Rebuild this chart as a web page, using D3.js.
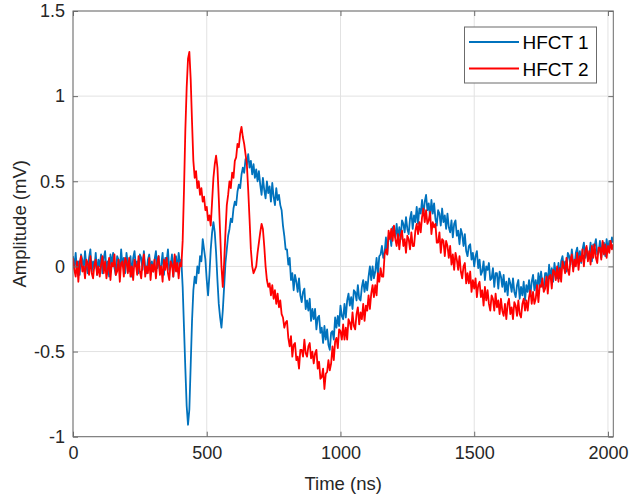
<!DOCTYPE html>
<html>
<head>
<meta charset="utf-8">
<script src="https://cdn.jsdelivr.net/npm/d3@7"></script>
<style>
  html, body { margin: 0; padding: 0; background: #fff; }
  svg { display: block; font-family: "Liberation Sans", Arial, sans-serif; }
</style>
</head>
<body>
<svg id="chart" width="630" height="496"></svg>
<script>
// Sampling grid (ns): one sample every 5 ns from 0 to 2020 ns
const sampleStartNs = 0;
const sampleStepNs = 5;

// HFCT 1 (mV), rows of 20 samples (100 ns per row)
const hfct1 = [
  0.06, -0.01, 0.08, -0.03, 0.03, -0.05, 0.07, 0.04, -0.02, 0.09, 0.00, -0.04, 0.05, 0.10, -0.03, 0.03, -0.01, 0.08, -0.05, 0.04,
  0.00, 0.07, -0.04, 0.05, 0.09, -0.02, 0.03, -0.06, 0.07, 0.01, 0.08, -0.01, -0.05, 0.06, 0.04, -0.03, 0.10, 0.00, 0.05, -0.04,
  0.08, 0.01, -0.03, 0.06, -0.06, 0.05, 0.09, 0.00, 0.03, -0.04, 0.07, 0.05, -0.02, 0.09, -0.01, -0.04, 0.04, 0.07, -0.02, 0.03,
  -0.03, 0.04, 0.09, -0.01, 0.06, -0.04, 0.01, 0.08, -0.05, 0.05, 0.03, 0.10, -0.02, 0.00, 0.07, -0.06, 0.05, 0.06, -0.03, 0.08,
  0.02, 0.04, -0.12, -0.36, -0.60, -0.82, -0.93, -0.84, -0.58, -0.32, -0.14, -0.06, -0.10, 0.00, -0.04, 0.06, 0.03, 0.16, 0.10, 0.04,
  -0.08, -0.17, -0.05, 0.10, 0.20, 0.26, 0.20, 0.08, -0.08, -0.22, -0.30, -0.36, -0.26, -0.12, 0.02, 0.10, 0.18, 0.22, 0.28, 0.26,
  0.34, 0.38, 0.36, 0.44, 0.48, 0.46, 0.54, 0.58, 0.55, 0.63, 0.60, 0.66, 0.58, 0.62, 0.54, 0.60, 0.52, 0.57, 0.50, 0.56,
  0.48, 0.42, 0.52, 0.45, 0.40, 0.50, 0.43, 0.47, 0.38, 0.49, 0.41, 0.36, 0.46, 0.39, 0.42, 0.36, 0.33, 0.24, 0.18, 0.10,
  0.10, 0.01, 0.05, -0.08, -0.04, -0.14, -0.05, -0.09, -0.15, -0.07, -0.17, -0.21, -0.15, -0.13, -0.25, -0.20, -0.26, -0.19, -0.32, -0.25,
  -0.31, -0.25, -0.37, -0.30, -0.29, -0.39, -0.36, -0.45, -0.35, -0.43, -0.37, -0.46, -0.49, -0.39, -0.38, -0.43, -0.30, -0.36, -0.29, -0.35,
  -0.23, -0.29, -0.31, -0.22, -0.30, -0.20, -0.16, -0.23, -0.18, -0.25, -0.14, -0.15, -0.20, -0.11, -0.19, -0.20, -0.12, -0.08, -0.15, -0.09,
  -0.14, -0.06, 0.00, -0.08, 0.00, -0.07, -0.03, 0.05, -0.05, 0.06, 0.07, 0.12, 0.05, 0.08, 0.17, 0.07, 0.18, 0.19, 0.12, 0.23,
  0.22, 0.17, 0.25, 0.16, 0.23, 0.16, 0.27, 0.25, 0.20, 0.29, 0.22, 0.19, 0.28, 0.32, 0.22, 0.30, 0.26, 0.35, 0.25, 0.34,
  0.31, 0.39, 0.30, 0.38, 0.42, 0.33, 0.37, 0.29, 0.39, 0.31, 0.37, 0.28, 0.24, 0.33, 0.31, 0.24, 0.34, 0.26, 0.30, 0.22,
  0.31, 0.23, 0.20, 0.27, 0.17, 0.25, 0.27, 0.18, 0.21, 0.13, 0.22, 0.19, 0.12, 0.19, 0.09, 0.06, 0.12, 0.13, 0.04, 0.08,
  0.00, 0.06, 0.09, -0.01, 0.04, -0.05, -0.03, 0.03, -0.08, 0.00, -0.02, 0.02, -0.08, -0.07, -0.01, -0.12, -0.04, -0.04, -0.13, -0.03,
  -0.06, -0.12, -0.05, -0.15, -0.09, -0.17, -0.07, -0.10, -0.15, -0.07, -0.15, -0.18, -0.11, -0.08, -0.19, -0.12, -0.17, -0.09, -0.20, -0.11,
  -0.15, -0.08, -0.17, -0.09, -0.05, -0.14, -0.08, -0.16, -0.04, -0.11, -0.03, -0.11, -0.13, -0.04, -0.04, -0.11, 0.01, -0.07, -0.01, -0.09,
  0.02, -0.04, -0.07, 0.02, -0.07, 0.03, 0.06, -0.01, 0.03, -0.03, 0.08, 0.06, 0.01, 0.10, 0.02, 0.00, 0.08, 0.11, 0.04, 0.09,
  0.02, 0.10, 0.14, 0.05, 0.11, 0.04, 0.07, 0.14, 0.03, 0.13, 0.12, 0.16, 0.07, 0.08, 0.15, 0.05, 0.14, 0.14, 0.06, 0.16,
  0.09, 0.15, 0.11, 0.17, 0.14
];

// HFCT 2 (mV), rows of 20 samples (100 ns per row)
const hfct2 = [
  0.05, -0.02, -0.06, 0.03, -0.09, 0.02, 0.06, -0.03, 0.00, -0.07, 0.04, 0.02, -0.05, 0.06, -0.04, -0.07, 0.01, 0.04, -0.05, 0.00,
  -0.06, 0.01, 0.06, -0.04, 0.03, -0.07, -0.02, 0.05, -0.08, 0.02, 0.00, 0.07, -0.05, -0.03, 0.04, -0.09, 0.02, 0.03, -0.06, 0.05,
  0.03, -0.04, 0.05, -0.06, 0.00, -0.08, 0.04, 0.01, -0.05, 0.06, -0.03, -0.07, 0.02, 0.07, -0.06, 0.00, -0.04, 0.05, -0.08, 0.01,
  -0.03, 0.04, -0.07, 0.02, 0.06, -0.05, 0.00, -0.09, 0.04, -0.02, 0.05, -0.04, -0.08, 0.03, 0.01, -0.06, 0.07, -0.03, 0.02, -0.07,
  0.02, 0.00, 0.15, 0.45, 0.80, 1.05, 1.22, 1.26, 1.10, 0.85, 0.62, 0.52, 0.56, 0.46, 0.50, 0.42, 0.46, 0.38, 0.41, 0.33,
  0.35, 0.27, 0.30, 0.24, 0.38, 0.52, 0.60, 0.65, 0.58, 0.40, 0.20, 0.00, -0.12, 0.02, 0.20, 0.36, 0.42, 0.50, 0.46, 0.55,
  0.52, 0.62, 0.64, 0.72, 0.70, 0.78, 0.82, 0.76, 0.72, 0.66, 0.60, 0.45, 0.28, 0.10, 0.00, -0.04, -0.02, 0.00, 0.08, 0.14,
  0.20, 0.25, 0.22, 0.12, 0.00, -0.08, -0.12, -0.10, -0.17, -0.11, -0.19, -0.14, -0.22, -0.16, -0.24, -0.20, -0.28, -0.30, -0.36, -0.33,
  -0.32, -0.42, -0.47, -0.41, -0.53, -0.46, -0.45, -0.55, -0.53, -0.60, -0.49, -0.49, -0.53, -0.43, -0.51, -0.53, -0.47, -0.45, -0.54, -0.50,
  -0.57, -0.51, -0.49, -0.60, -0.56, -0.66, -0.65, -0.60, -0.72, -0.63, -0.62, -0.55, -0.61, -0.57, -0.47, -0.55, -0.44, -0.42, -0.48, -0.37,
  -0.38, -0.43, -0.34, -0.43, -0.36, -0.43, -0.31, -0.33, -0.37, -0.27, -0.35, -0.37, -0.28, -0.24, -0.34, -0.27, -0.31, -0.22, -0.32, -0.23,
  -0.26, -0.17, -0.25, -0.16, -0.11, -0.18, -0.11, -0.17, -0.04, -0.09, -0.01, -0.06, -0.06, 0.07, 0.10, 0.07, 0.21, 0.16, 0.22, 0.15,
  0.24, 0.16, 0.12, 0.19, 0.10, 0.18, 0.21, 0.12, 0.16, 0.08, 0.18, 0.16, 0.10, 0.20, 0.12, 0.12, 0.21, 0.25, 0.19, 0.26,
  0.20, 0.29, 0.34, 0.26, 0.33, 0.25, 0.27, 0.32, 0.19, 0.26, 0.23, 0.25, 0.14, 0.14, 0.20, 0.08, 0.16, 0.15, 0.06, 0.15,
  0.12, 0.05, 0.12, 0.01, 0.07, -0.02, 0.08, 0.04, -0.02, 0.06, -0.03, -0.07, 0.00, 0.02, -0.10, -0.04, -0.10, -0.03, -0.15, -0.08,
  -0.13, -0.07, -0.18, -0.11, -0.09, -0.18, -0.14, -0.23, -0.12, -0.20, -0.14, -0.22, -0.26, -0.17, -0.19, -0.26, -0.16, -0.24, -0.20, -0.28,
  -0.19, -0.26, -0.29, -0.22, -0.31, -0.22, -0.19, -0.28, -0.24, -0.31, -0.21, -0.23, -0.29, -0.20, -0.28, -0.30, -0.22, -0.19, -0.26, -0.20,
  -0.26, -0.18, -0.14, -0.22, -0.15, -0.22, -0.19, -0.11, -0.21, -0.11, -0.12, -0.07, -0.15, -0.13, -0.06, -0.16, -0.06, -0.05, -0.13, -0.02,
  -0.03, -0.08, 0.00, -0.09, -0.01, -0.09, 0.03, 0.00, -0.04, 0.05, -0.02, -0.05, 0.04, 0.07, -0.03, 0.04, 0.00, 0.08, -0.02, 0.06,
  0.03, 0.10, 0.00, 0.09, 0.12, 0.03, 0.09, 0.01, 0.12, 0.05, 0.13, 0.05, 0.02, 0.11, 0.11, 0.04, 0.15, 0.07, 0.13, 0.05,
  0.12, 0.08, 0.15, 0.10, 0.13
];

const seriesNames = ["HFCT 1", "HFCT 2"];
const seriesColors = ["#0072BD", "#FF0000"];
const xTicks = [0, 500, 1000, 1500, 2000];
const yTicks = [-1, -0.5, 0, 0.5, 1, 1.5];
const xDomain = [0, 2020];
const yDomain = [-1, 1.5];

const svg = d3.select("#chart");
const L = 73, R = 613.3, T = 11, B = 436.7;

const x = d3.scaleLinear().domain(xDomain).range([L, R]);
const y = d3.scaleLinear().domain(yDomain).range([B, T]);

// grid
const grid = svg.append("g");
grid.selectAll("line.gx").data(xTicks).join("line")
  .attr("x1", d => x(d)).attr("x2", d => x(d)).attr("y1", T).attr("y2", B)
  .attr("stroke", "#e2e2e2").attr("stroke-width", 1);
grid.selectAll("line.gy").data(yTicks).join("line")
  .attr("x1", L).attr("x2", R).attr("y1", d => y(d)).attr("y2", d => y(d))
  .attr("stroke", "#e2e2e2").attr("stroke-width", 1);

// data lines
svg.append("clipPath").attr("id", "clip").append("rect")
  .attr("x", L).attr("y", T).attr("width", R - L).attr("height", B - T);
const line = d3.line()
  .x((d, i) => x(sampleStartNs + i * sampleStepNs))
  .y(d => y(d));
const plot = svg.append("g").attr("clip-path", "url(#clip)");
[hfct1, hfct2].forEach((s, k) => {
  plot.append("path").datum(s)
    .attr("d", line)
    .attr("fill", "none")
    .attr("stroke", seriesColors[k])
    .attr("stroke-width", 1.8)
    .attr("stroke-linejoin", "round");
});

// axes (box style, inward ticks)
const axisColor = "#6b6b6b";
const tickLen = 5;
const styleAxis = g => {
  g.select(".domain").remove();
  g.selectAll(".tick line").attr("stroke", axisColor);
  g.selectAll(".tick text").attr("fill", "#262626").attr("font-size", 18);
};
svg.append("g").attr("transform", `translate(0,${B})`)
  .call(d3.axisBottom(x).tickValues(xTicks).tickFormat(d3.format("d")).tickSizeInner(-tickLen).tickSizeOuter(0).tickPadding(10))
  .call(styleAxis);
svg.append("g").attr("transform", `translate(0,${T})`)
  .call(d3.axisTop(x).tickValues(xTicks).tickFormat("").tickSizeInner(-tickLen).tickSizeOuter(0))
  .call(styleAxis);
svg.append("g").attr("transform", `translate(${L},0)`)
  .call(d3.axisLeft(y).tickValues(yTicks).tickFormat(d => String(d)).tickSizeInner(-tickLen).tickSizeOuter(0).tickPadding(8))
  .call(styleAxis);
svg.append("g").attr("transform", `translate(${R},0)`)
  .call(d3.axisRight(y).tickValues(yTicks).tickFormat("").tickSizeInner(-tickLen).tickSizeOuter(0))
  .call(styleAxis);
svg.append("rect").attr("x", L).attr("y", T).attr("width", R - L).attr("height", B - T)
  .attr("fill", "none").attr("stroke", axisColor).attr("stroke-width", 1);

// axis labels
svg.append("text").attr("x", (L + R) / 2).attr("y", 490)
  .attr("text-anchor", "middle").attr("font-size", 18.5).attr("fill", "#262626")
  .text("Time (ns)");
svg.append("text").attr("transform", `translate(26,${(T + B) / 2}) rotate(-90)`)
  .attr("text-anchor", "middle").attr("font-size", 18.5).attr("fill", "#262626")
  .text("Amplitude (mV)");

// legend
const lg = svg.append("g");
lg.append("rect").attr("x", 464.5).attr("y", 27).attr("width", 132).attr("height", 56)
  .attr("fill", "#fff").attr("stroke", axisColor).attr("stroke-width", 1);
seriesNames.forEach((n, k) => {
  const yy = 42 + k * 26.5;
  lg.append("line").attr("x1", 469).attr("x2", 519).attr("y1", yy).attr("y2", yy)
    .attr("stroke", seriesColors[k]).attr("stroke-width", 1.8);
  lg.append("text").attr("x", 522.5).attr("y", yy + 7)
    .attr("font-size", 19).attr("fill", "#000").text(n);
});
</script>
</body>
</html>
